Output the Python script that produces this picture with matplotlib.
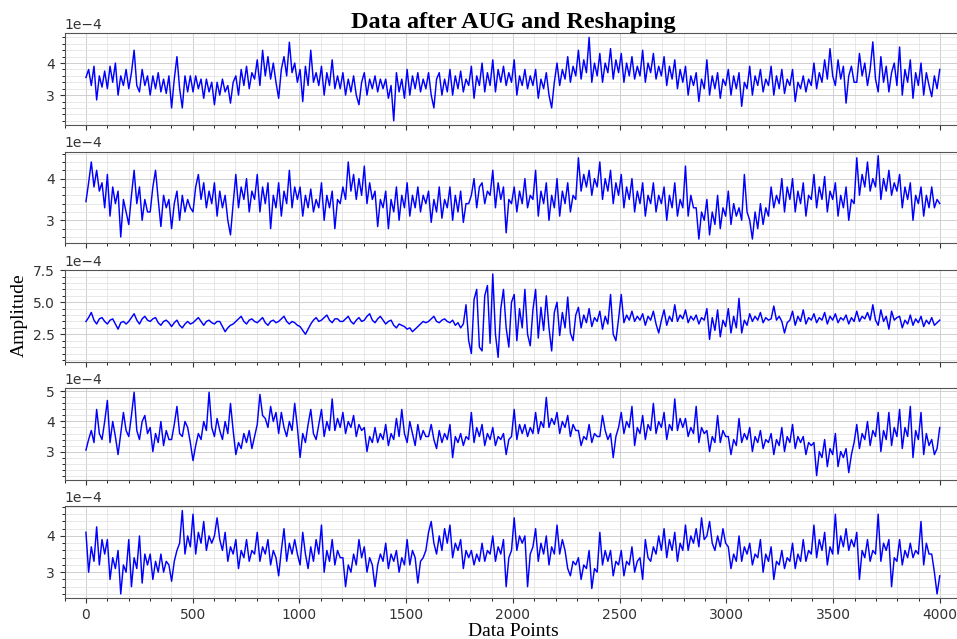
import numpy as np
import matplotlib.pyplot as plt

# amplitudes (units of 1e-4), 8 readings per 100 data points
amp1 = [3.55, 3.8, 3.3, 3.9, 2.85, 3.6, 3.25, 3.75, 3.2, 3.9, 3.4, 4.0, 3.0, 3.6, 3.3, 3.8,
        3.2, 3.7, 4.4, 3.3, 3.1, 3.8, 3.3, 3.6, 3.0, 3.6, 3.2, 3.7, 3.1, 3.5, 3.05, 3.6,
        2.6, 3.5, 4.2, 3.2, 2.6, 3.6, 3.1, 3.6, 3.1, 3.6, 3.2, 3.5, 2.9, 3.5, 3.1, 3.4,
        2.7, 3.4, 3.0, 3.5, 3.1, 3.3, 2.75, 3.4, 3.6, 3.0, 3.8, 3.3, 3.9, 3.2, 3.7, 3.5,
        4.1, 3.3, 4.4, 3.6, 4.2, 3.5, 4.0, 3.4, 2.9, 3.8, 4.2, 3.6, 4.65, 3.7, 4.0, 3.4,
        3.8, 2.8, 3.9, 3.3, 4.4, 3.4, 3.7, 3.3, 3.9, 3.0, 3.7, 3.3, 4.1, 3.2, 3.6, 3.2,
        3.7, 3.0, 3.5, 3.1, 3.6, 3.0, 2.7, 3.4, 3.7, 3.0, 3.5, 3.2, 3.6, 3.1, 3.5, 3.2,
        3.5, 2.9, 3.3, 2.2, 3.7, 3.1, 3.5, 2.9, 3.8, 3.0, 3.6, 3.2, 3.7, 3.1, 3.5, 3.2,
        3.7, 3.0, 2.6, 3.5, 3.7, 3.0, 3.5, 3.1, 3.8, 3.0, 3.6, 3.2, 3.75, 3.1, 3.5, 3.3,
        3.9, 2.9, 3.6, 3.3, 4.0, 3.1, 3.7, 3.3, 4.1, 3.1, 3.8, 3.4, 3.9, 3.3, 3.7, 3.4,
        4.1, 3.0, 3.6, 3.3, 3.8, 3.2, 3.6, 3.3, 3.8, 2.9, 3.5, 3.2, 3.7, 3.0, 2.6, 3.4,
        4.0, 3.3, 3.8, 3.5, 4.2, 3.4, 3.9, 3.6, 4.4, 3.5, 4.1, 3.7, 4.8, 3.4, 4.0, 3.6,
        4.3, 3.4, 4.0, 3.7, 4.45, 3.5, 4.1, 3.7, 4.3, 3.4, 4.0, 3.6, 4.2, 3.5, 3.9, 3.6,
        4.4, 3.4, 4.0, 3.7, 4.3, 3.5, 3.9, 3.6, 4.2, 3.3, 3.9, 3.5, 4.1, 3.2, 3.8, 3.4,
        3.9, 3.0, 3.6, 3.3, 3.7, 2.8, 3.5, 3.2, 4.1, 3.0, 3.6, 3.2, 3.7, 2.9, 3.5, 3.3,
        3.8, 3.0, 3.6, 3.2, 3.7, 2.65, 3.4, 3.2, 3.9, 3.0, 3.6, 3.3, 3.8, 3.1, 3.5, 3.3,
        3.9, 3.0, 3.6, 3.2, 3.8, 3.05, 3.5, 3.3, 3.8, 2.8, 3.4, 3.2, 3.6, 3.1, 3.5, 3.3,
        4.0, 3.2, 3.7, 3.4, 4.1, 3.5, 4.45, 3.6, 3.3, 4.1, 3.5, 3.9, 2.75, 3.6, 3.9, 3.4,
        3.4, 4.3, 3.6, 4.0, 3.3, 3.8, 4.66, 3.5, 3.1, 4.2, 3.4, 3.9, 3.1, 3.7, 4.0, 3.3,
        4.5, 3.0, 3.8, 3.4, 4.1, 2.9, 3.7, 3.3, 4.0, 3.0, 3.7, 3.3, 2.95, 3.6, 3.2, 3.8]

amp2 = [3.45, 3.9, 4.4, 3.8, 4.2, 3.7, 3.9, 3.3, 4.1, 3.1, 3.8, 3.4, 3.7, 2.6, 3.5, 3.2,
        2.9, 3.6, 4.2, 3.4, 3.8, 3.0, 3.5, 3.2, 3.2, 3.8, 4.2, 3.5, 2.85, 3.6, 3.3, 3.5,
        2.8, 3.4, 3.7, 3.0, 3.6, 3.2, 3.5, 3.3, 3.2, 3.8, 4.1, 3.5, 3.9, 3.3, 3.7, 3.4,
        3.9, 3.1, 3.7, 3.3, 3.6, 3.0, 2.65, 3.4, 4.1, 3.3, 3.8, 3.5, 4.0, 3.2, 3.7, 3.5,
        4.1, 3.2, 3.8, 3.4, 3.9, 2.8, 3.6, 3.3, 3.9, 3.1, 3.7, 3.4, 4.2, 3.3, 3.8, 3.5,
        3.8, 3.1, 3.6, 3.3, 3.75, 3.2, 3.5, 3.3, 3.9, 3.0, 3.6, 3.3, 3.7, 2.8, 3.5, 3.4,
        3.8, 3.5, 4.4, 3.7, 4.1, 3.5, 4.0, 3.6, 4.3, 3.4, 3.9, 3.5, 3.7, 2.85, 3.5, 3.3,
        3.7, 2.8, 3.5, 3.2, 3.8, 3.0, 3.6, 3.3, 3.9, 3.1, 3.6, 3.3, 3.8, 3.2, 3.6, 3.4,
        3.7, 2.95, 3.5, 3.2, 3.8, 3.05, 3.5, 3.3, 3.8, 3.0, 3.6, 3.2, 3.7, 2.95, 3.4, 3.4,
        3.6, 4.0, 3.3, 3.8, 3.9, 3.4, 3.7, 3.6, 4.2, 3.3, 3.9, 3.5, 3.8, 2.7, 3.5, 3.4,
        3.8, 3.2, 3.7, 3.4, 4.0, 3.3, 3.6, 3.5, 4.2, 3.1, 3.7, 3.4, 3.9, 3.0, 3.6, 3.3,
        4.0, 3.1, 3.7, 3.4, 3.9, 3.2, 3.6, 3.5, 4.5, 3.7, 4.1, 3.8, 4.2, 3.6, 4.0, 3.8,
        4.4, 3.5, 4.0, 3.7, 4.2, 3.4, 3.9, 3.6, 4.1, 3.3, 3.8, 3.5, 4.0, 3.2, 3.7, 3.4,
        3.9, 3.1, 3.6, 3.4, 3.9, 3.2, 3.6, 3.4, 3.8, 3.0, 3.6, 3.3, 3.9, 3.1, 3.5, 3.3,
        4.3, 3.1, 3.6, 3.3, 3.3, 2.55, 3.2, 3.0, 3.5, 2.65, 3.2, 2.9, 3.6, 2.8, 3.3, 3.1,
        3.7, 2.9, 3.4, 3.1, 3.3, 3.0, 4.1, 3.2, 3.0, 2.55, 3.2, 2.8, 3.4, 2.9, 3.3, 3.1,
        3.8, 3.3, 3.6, 3.4, 4.0, 3.2, 3.8, 3.5, 4.0, 3.2, 3.7, 3.4, 3.9, 3.1, 3.6, 3.5,
        4.1, 3.3, 3.8, 3.5, 4.05, 3.2, 3.7, 3.5, 3.9, 3.1, 3.6, 3.3, 3.8, 3.0, 3.5, 3.4,
        4.5, 3.6, 4.1, 3.8, 4.4, 3.7, 4.0, 3.8, 4.55, 3.5, 4.0, 3.7, 4.2, 3.6, 3.9, 3.7,
        4.1, 3.3, 3.8, 3.5, 3.9, 3.0, 3.6, 3.4, 3.8, 3.1, 3.6, 3.3, 3.8, 3.3, 3.5, 3.4]

amp3 = [3.5, 3.8, 4.2, 3.6, 3.3, 3.7, 3.8, 3.5, 3.3, 3.6, 3.7, 3.3, 2.9, 3.4, 3.5, 3.3,
        3.5, 3.8, 4.1, 3.6, 3.3, 3.7, 3.9, 3.6, 3.5, 3.7, 3.8, 3.4, 3.2, 3.5, 3.6, 3.4,
        3.1, 3.4, 3.6, 3.2, 3.0, 3.3, 3.5, 3.3, 3.4, 3.6, 3.8, 3.5, 3.2, 3.5, 3.6, 3.4,
        3.3, 3.5, 3.5, 3.1, 2.7, 3.0, 3.2, 3.3, 3.5, 3.7, 3.9, 3.5, 3.3, 3.6, 3.7, 3.5,
        3.4, 3.6, 3.8, 3.4, 3.2, 3.5, 3.6, 3.4, 3.5, 3.7, 3.9, 3.5, 3.3, 3.5, 3.4, 3.2,
        3.1, 2.8, 2.5, 2.9, 3.3, 3.6, 3.8, 3.5, 3.6, 3.8, 4.0, 3.6, 3.4, 3.7, 3.7, 3.5,
        3.5, 3.7, 3.9, 3.5, 3.3, 3.6, 3.8, 3.5, 3.6, 3.9, 4.1, 3.6, 3.4, 3.7, 3.9, 3.6,
        3.3, 3.5, 3.6, 3.2, 3.0, 3.3, 3.2, 3.1, 2.9, 3.0, 2.7, 2.9, 3.1, 3.3, 3.5, 3.4,
        3.5, 3.7, 3.9, 3.5, 3.4, 3.6, 3.7, 3.5, 3.4, 3.6, 3.2, 3.4, 3.0, 3.3, 4.8, 2.0,
        1.0, 5.2, 6.0, 1.5, 1.2, 5.5, 6.3, 1.8, 7.2, 2.5, 0.7, 4.5, 6.0, 3.0, 1.5, 5.0,
        5.6, 2.0, 4.5, 3.0, 6.0, 2.5, 1.6, 4.4, 6.0, 2.2, 4.6, 2.8, 5.5, 3.0, 1.2, 4.2,
        5.0, 2.4, 4.2, 3.0, 5.4, 2.6, 2.0, 4.0, 4.6, 3.0, 4.0, 3.4, 4.5, 3.1, 3.8, 3.5,
        4.3, 2.9, 3.9, 3.3, 5.6, 2.5, 2.0, 3.7, 5.6, 3.4, 4.0, 3.6, 4.3, 3.5, 3.9, 3.6,
        4.1, 3.2, 3.9, 3.6, 4.3, 3.3, 2.6, 3.6, 4.4, 3.2, 3.9, 3.5, 4.8, 3.5, 4.0, 3.7,
        4.4, 3.4, 3.9, 3.6, 4.0, 3.3, 3.8, 3.6, 4.5, 2.1, 3.8, 2.8, 4.4, 2.3, 3.6, 3.1,
        4.5, 2.6, 3.9, 3.0, 5.3, 2.6, 3.6, 3.2, 4.1, 3.5, 3.9, 3.6, 4.2, 3.4, 3.8, 3.6,
        3.7, 4.7, 3.6, 3.9, 3.5, 2.6, 3.4, 3.6, 4.3, 3.2, 3.9, 3.5, 4.4, 3.3, 3.8, 3.6,
        4.1, 3.4, 3.8, 3.6, 4.2, 3.3, 3.9, 3.6, 4.1, 3.4, 3.8, 3.6, 4.0, 3.3, 3.8, 3.5,
        4.3, 3.5, 3.9, 3.7, 4.2, 3.6, 4.8, 3.6, 3.2, 4.4, 3.5, 3.9, 2.9, 4.3, 3.6, 3.8,
        3.9, 3.0, 3.6, 3.3, 4.0, 3.2, 3.7, 3.4, 3.9, 3.1, 3.6, 3.3, 3.8, 3.2, 3.4, 3.6]

amp4 = [3.05, 3.4, 3.7, 3.3, 4.4, 3.6, 3.4, 4.0, 4.7, 3.3, 4.0, 3.5, 2.9, 3.6, 4.3, 3.7,
        3.5, 4.2, 4.97, 3.7, 3.4, 4.0, 4.2, 3.6, 3.8, 3.0, 3.6, 3.3, 4.0, 3.2, 3.7, 3.4,
        3.4, 3.9, 4.5, 3.6, 3.5, 4.0, 3.8, 3.3, 2.7, 3.2, 3.6, 3.4, 4.0, 3.7, 4.97, 3.8,
        3.5, 4.1, 3.7, 3.4, 4.0, 3.6, 4.6, 3.7, 2.9, 3.3, 3.1, 3.6, 3.3, 3.7, 3.1, 3.5,
        3.9, 4.9, 4.2, 4.1, 3.8, 4.5, 4.0, 4.3, 3.6, 4.3, 3.8, 3.5, 4.0, 3.7, 4.6, 3.8,
        2.8, 3.6, 3.3, 3.9, 4.4, 3.6, 3.4, 3.9, 4.4, 3.5, 4.0, 3.7, 4.75, 3.7, 4.1, 3.8,
        4.3, 3.6, 4.0, 3.8, 4.2, 3.5, 3.9, 3.7, 3.8, 3.0, 3.5, 3.3, 3.8, 3.3, 3.6, 3.4,
        3.9, 3.2, 3.6, 3.4, 4.1, 3.5, 4.4, 3.6, 3.3, 4.0, 3.6, 3.2, 3.9, 3.4, 3.7, 3.5,
        3.5, 3.9, 3.4, 3.1, 3.7, 3.3, 3.6, 3.4, 3.9, 2.8, 3.5, 3.3, 3.6, 3.2, 3.5, 3.4,
        4.3, 3.3, 3.8, 3.5, 3.9, 3.2, 3.6, 3.4, 3.8, 3.2, 3.5, 3.4, 3.6, 2.9, 3.4, 3.5,
        4.4, 3.4, 3.9, 3.6, 3.9, 3.5, 3.8, 3.6, 4.3, 3.6, 4.0, 3.8, 4.8, 3.8, 4.1, 3.9,
        4.3, 3.6, 4.0, 3.8, 4.2, 3.5, 3.9, 3.7, 3.7, 3.2, 3.5, 3.4, 3.9, 3.3, 3.6, 3.5,
        3.5, 4.2, 3.7, 3.4, 3.6, 2.8, 3.5, 3.8, 4.3, 3.6, 4.0, 3.8, 4.5, 3.2, 3.8, 3.6,
        4.2, 3.4, 3.9, 3.7, 4.6, 3.6, 4.0, 3.8, 4.3, 3.4, 3.9, 3.7, 4.75, 3.7, 4.1, 3.8,
        4.1, 3.5, 3.8, 3.6, 4.5, 3.3, 3.8, 3.6, 3.7, 3.0, 3.5, 3.3, 4.2, 3.3, 3.7, 3.5,
        3.5, 2.9, 3.4, 3.2, 4.1, 3.3, 3.6, 3.4, 3.8, 3.0, 3.5, 3.3, 3.7, 3.1, 3.4, 3.3,
        3.6, 2.9, 3.4, 3.2, 3.8, 3.0, 3.5, 3.3, 3.9, 3.1, 3.5, 3.3, 3.5, 2.9, 3.3, 3.2,
        3.3, 2.2, 3.0, 2.8, 3.4, 2.5, 3.1, 2.9, 3.6, 2.5, 3.0, 2.8, 3.1, 2.3, 2.9, 3.3,
        3.9, 3.1, 3.6, 3.4, 4.0, 3.2, 3.7, 3.5, 4.3, 3.0, 3.7, 3.4, 4.3, 3.2, 3.8, 3.5,
        4.4, 3.1, 3.8, 3.5, 4.5, 2.8, 3.7, 3.4, 4.3, 2.9, 3.6, 3.2, 3.4, 2.9, 3.1, 3.8]

amp5 = [4.1, 3.0, 3.7, 3.3, 4.25, 3.2, 3.9, 3.5, 3.9, 2.8, 3.4, 3.1, 3.6, 2.4, 3.2, 3.0,
        3.9, 2.6, 3.4, 3.1, 4.0, 2.7, 3.5, 3.2, 3.5, 2.8, 3.3, 3.0, 3.5, 3.0, 3.3, 3.2,
        2.75, 3.3, 3.6, 3.8, 4.7, 3.5, 4.0, 3.7, 4.6, 3.5, 4.1, 3.8, 4.4, 3.6, 4.0, 3.8,
        4.0, 4.5, 3.9, 3.6, 4.1, 3.3, 3.7, 3.5, 3.9, 3.1, 3.6, 3.4, 3.9, 3.3, 3.6, 3.5,
        4.1, 3.3, 3.7, 3.5, 3.9, 3.2, 3.6, 3.4, 2.9, 3.6, 4.2, 3.3, 3.8, 3.5, 3.9, 3.5,
        3.2, 4.1, 3.5, 3.1, 3.7, 3.3, 3.9, 3.5, 4.3, 3.0, 3.6, 3.3, 3.9, 3.2, 3.6, 3.4,
        3.4, 2.6, 3.2, 3.0, 3.5, 3.2, 3.9, 3.4, 3.7, 3.0, 3.4, 3.2, 2.6, 3.2, 3.5, 3.3,
        3.8, 3.1, 3.5, 3.3, 3.6, 3.0, 3.4, 3.2, 3.9, 3.2, 3.6, 3.4, 2.7, 3.3, 3.4, 3.6,
        4.1, 4.4, 3.8, 3.5, 4.0, 3.6, 4.2, 3.8, 4.3, 3.4, 3.8, 3.6, 3.9, 3.1, 3.6, 3.4,
        3.6, 3.2, 3.5, 3.3, 3.8, 3.3, 3.6, 3.5, 4.0, 3.3, 3.7, 3.5, 3.9, 2.6, 3.4, 3.6,
        4.5, 3.6, 4.0, 3.8, 4.0, 2.6, 3.5, 3.7, 4.2, 3.3, 3.8, 3.5, 4.0, 3.2, 3.7, 3.5,
        4.3, 3.5, 3.9, 3.6, 3.1, 2.9, 3.3, 3.2, 3.4, 2.8, 3.2, 3.1, 3.6, 2.55, 3.1, 3.0,
        4.1, 3.2, 3.6, 3.3, 3.6, 2.9, 3.3, 3.2, 3.6, 2.9, 3.3, 3.2, 3.7, 3.0, 3.3, 3.4,
        2.8, 3.9, 3.4, 3.3, 3.7, 3.5, 4.0, 3.6, 4.2, 3.4, 3.9, 3.6, 4.1, 3.3, 3.8, 3.6,
        4.3, 3.6, 4.0, 3.8, 4.2, 3.7, 4.5, 3.9, 4.0, 4.4, 3.8, 3.6, 4.0, 3.7, 4.2, 3.8,
        3.7, 3.1, 3.5, 3.3, 4.0, 3.3, 3.7, 3.5, 3.8, 3.2, 3.5, 3.4, 3.9, 3.0, 3.5, 3.3,
        3.7, 2.8, 3.3, 3.2, 3.6, 3.1, 3.4, 3.3, 3.8, 3.1, 3.5, 3.3, 3.9, 3.3, 3.6, 3.5,
        4.3, 3.4, 3.9, 3.6, 4.1, 3.2, 3.7, 3.5, 4.6, 3.5, 4.0, 3.7, 4.2, 3.6, 3.9, 3.7,
        4.1, 2.8, 3.6, 3.4, 3.9, 3.3, 3.6, 3.5, 4.6, 3.3, 3.8, 3.6, 3.9, 2.6, 3.4, 3.3,
        3.9, 3.2, 3.6, 3.4, 3.8, 3.4, 3.6, 3.5, 4.4, 3.2, 3.8, 3.5, 3.5, 3.0, 2.4, 2.9]

series = [amp1, amp2, amp3, amp4, amp5]

fig, axes = plt.subplots(5, 1, sharex=True, figsize=(9.57, 6.39), dpi=100)
plt.subplots_adjust(left=0.0675, right=1.0045, top=0.948, bottom=0.064, hspace=0.29)

for ax, amp in zip(axes, series):
    y = np.array(amp) * 1e-4
    x = np.linspace(0, 3999, len(y))
    ax.plot(x, y, color='blue', lw=1.05)
    ax.ticklabel_format(axis='y', style='sci', scilimits=(0, 0))
    ax.minorticks_on()
    ax.grid(which='major', color='#cfcfcf', lw=0.7)
    ax.grid(which='minor', color='#e4e4e4', lw=0.6)
    ax.tick_params(labelsize=10, colors='#333333')
    ax.yaxis.get_offset_text().set_fontsize(10)
    ax.yaxis.get_offset_text().set_color('#333333')
    for s in ax.spines.values():
        s.set_color('#555555')

axes[0].set_xlim(-100, 4100)
axes[0].set_title("Data after AUG and Reshaping", family='Liberation Serif',
                  fontweight='bold', fontsize=17.5, pad=4)
axes[2].set_ylabel("Amplitude", family='Liberation Serif', fontsize=14)
axes[4].set_xlabel("Data Points", family='Liberation Serif', fontsize=14, labelpad=1)

plt.savefig("out.png", dpi=100)
